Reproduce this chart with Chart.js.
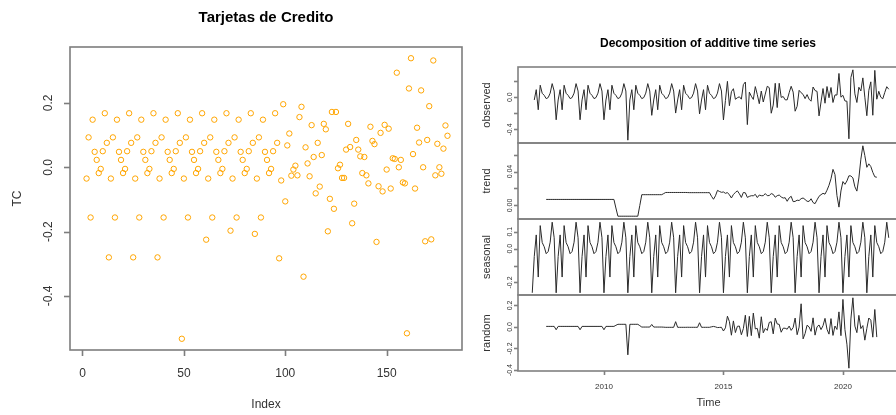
<!DOCTYPE html>
<html>
<head>
<meta charset="utf-8">
<script src="https://cdn.jsdelivr.net/npm/chart.js@4.4.1/dist/chart.umd.min.js"></script>
<style>
  html, body { margin: 0; padding: 0; background: #fff; width: 896px; height: 415px; overflow: hidden; }
  canvas { position: absolute; }
</style>
</head>
<body>
<canvas id="tc" width="480" height="415" style="left:0;top:0"></canvas>
<canvas id="pObs" width="440" height="415" style="left:480px;top:0"></canvas>
<canvas id="pTrend" width="440" height="415" style="left:480px;top:0"></canvas>
<canvas id="pSeas" width="440" height="415" style="left:480px;top:0"></canvas>
<canvas id="pRand" width="440" height="415" style="left:480px;top:0"></canvas>
<script>
// Monthly series, Jan 2007 .. Dec 2021 (January 2007 is missing)
const startYear = 2007;
const nMonths = 180;

// TC: one row per year, Jan..Dec
const tc = [
  null,   -0.035,  0.093, -0.156,  0.148,  0.048,  0.023, -0.018, -0.005,  0.050,  0.168,  0.076,
  -0.280, -0.035,  0.093, -0.156,  0.148,  0.048,  0.023, -0.018, -0.005,  0.050,  0.168,  0.076,
  -0.280, -0.035,  0.093, -0.156,  0.148,  0.048,  0.023, -0.018, -0.005,  0.050,  0.168,  0.076,
  -0.280, -0.035,  0.093, -0.156,  0.148,  0.048,  0.023, -0.018, -0.005,  0.050,  0.168,  0.076,
  -0.533, -0.035,  0.093, -0.156,  0.148,  0.048,  0.023, -0.018, -0.005,  0.050,  0.168,  0.076,
  -0.225, -0.035,  0.093, -0.156,  0.148,  0.048,  0.023, -0.018, -0.005,  0.050,  0.168,  0.076,
  -0.197, -0.035,  0.093, -0.156,  0.148,  0.048,  0.023, -0.018, -0.005,  0.050,  0.168,  0.076,
  -0.207, -0.035,  0.093, -0.156,  0.148,  0.048,  0.023, -0.018, -0.005,  0.050,  0.168,  0.076,
  -0.283, -0.041,  0.196, -0.106,  0.068,  0.105, -0.026, -0.007,  0.005, -0.025,  0.156,  0.188,
  -0.340,  0.062,  0.012, -0.028,  0.131,  0.032, -0.081,  0.076, -0.060,  0.038,  0.135,  0.118,
  -0.199, -0.098,  0.172, -0.129,  0.172, -0.003,  0.008, -0.033, -0.033,  0.055,  0.135,  0.063,
  -0.174, -0.113,  0.085,  0.055,  0.034, -0.018,  0.032, -0.025, -0.050,  0.126,  0.082,  0.072,
  -0.232, -0.059,  0.107, -0.075,  0.132, -0.007,  0.120, -0.066,  0.028,  0.026,  0.294,  0.000,
   0.023, -0.047, -0.050, -0.516,  0.245,  0.339,  0.041, -0.066,  0.123,  0.077,  0.239,  0.000,
  -0.230,  0.085,  0.190, -0.224,  0.332, -0.025,  0.073,  0.000, -0.020,  0.058,  0.130,  0.098
];

// Trend component (centred 12-month moving average)
const trend = [
  null, null, null, null, null, null, null, 0.0071, 0.0071, 0.0071, 0.0071, 0.0071,
  0.0071, 0.0071, 0.0071, 0.0071, 0.0071, 0.0071, 0.0071, 0.0071, 0.0071, 0.0071, 0.0071, 0.0071,
  0.0071, 0.0071, 0.0071, 0.0071, 0.0071, 0.0071, 0.0071, 0.0071, 0.0071, 0.0071, 0.0071, 0.0071,
  0.0071, 0.0071, 0.0071, 0.0071, 0.0071, 0.0071, -0.0030, -0.0127, -0.0127, -0.0127, -0.0127, -0.0127,
  -0.0127, -0.0127, -0.0127, -0.0127, -0.0127, -0.0127, 0.0000, 0.0127, 0.0127, 0.0127, 0.0127, 0.0127,
  0.0127, 0.0127, 0.0127, 0.0127, 0.0127, 0.0127, 0.0140, 0.0153, 0.0153, 0.0153, 0.0153, 0.0153,
  0.0153, 0.0153, 0.0153, 0.0153, 0.0153, 0.0153, 0.0152, 0.0151, 0.0151, 0.0151, 0.0151, 0.0151,
  0.0151, 0.0151, 0.0151, 0.0151, 0.0151, 0.0151, 0.0108, 0.0073, 0.0114, 0.0178, 0.0165, 0.0155,
  0.0159, 0.0143, 0.0152, 0.0125, 0.0088, 0.0130, 0.0153, 0.0172, 0.0138, 0.0094, 0.0153, 0.0149,
  0.0095, 0.0107, 0.0115, 0.0114, 0.0131, 0.0093, 0.0123, 0.0115, 0.0115, 0.0140, 0.0115, 0.0117,
  0.0140, 0.0131, 0.0097, 0.0115, 0.0123, 0.0100, 0.0087, 0.0091, 0.0049, 0.0089, 0.0108, 0.0045,
  0.0048, 0.0062, 0.0058, 0.0080, 0.0088, 0.0070, 0.0049, 0.0048, 0.0079, 0.0034, 0.0021, 0.0066,
  0.0108, 0.0127, 0.0143, 0.0133, 0.0180, 0.0238, 0.0315, 0.0426, 0.0365, 0.0116, -0.0020, 0.0171,
  0.0282, 0.0249, 0.0289, 0.0350, 0.0348, 0.0325, 0.0220, 0.0169, 0.0324, 0.0546, 0.0704, 0.0588,
  0.0450, 0.0491, 0.0459, 0.0391, 0.0338, 0.0333, null, null, null, null, null, null
];

// Seasonal component, Jan..Dec each year
const seasonal = [
  -0.261, -0.047, 0.081, -0.168, 0.136, 0.036, 0.011, -0.030, -0.017, 0.038, 0.156, 0.064,
  -0.261, -0.047, 0.081, -0.168, 0.136, 0.036, 0.011, -0.030, -0.017, 0.038, 0.156, 0.064,
  -0.261, -0.047, 0.081, -0.168, 0.136, 0.036, 0.011, -0.030, -0.017, 0.038, 0.156, 0.064,
  -0.261, -0.047, 0.081, -0.168, 0.136, 0.036, 0.011, -0.030, -0.017, 0.038, 0.156, 0.064,
  -0.261, -0.047, 0.081, -0.168, 0.136, 0.036, 0.011, -0.030, -0.017, 0.038, 0.156, 0.064,
  -0.261, -0.047, 0.081, -0.168, 0.136, 0.036, 0.011, -0.030, -0.017, 0.038, 0.156, 0.064,
  -0.261, -0.047, 0.081, -0.168, 0.136, 0.036, 0.011, -0.030, -0.017, 0.038, 0.156, 0.064,
  -0.261, -0.047, 0.081, -0.168, 0.136, 0.036, 0.011, -0.030, -0.017, 0.038, 0.156, 0.064,
  -0.261, -0.047, 0.081, -0.168, 0.136, 0.036, 0.011, -0.030, -0.017, 0.038, 0.156, 0.064,
  -0.261, -0.047, 0.081, -0.168, 0.136, 0.036, 0.011, -0.030, -0.017, 0.038, 0.156, 0.064,
  -0.261, -0.047, 0.081, -0.168, 0.136, 0.036, 0.011, -0.030, -0.017, 0.038, 0.156, 0.064,
  -0.261, -0.047, 0.081, -0.168, 0.136, 0.036, 0.011, -0.030, -0.017, 0.038, 0.156, 0.064,
  -0.261, -0.047, 0.081, -0.168, 0.136, 0.036, 0.011, -0.030, -0.017, 0.038, 0.156, 0.064,
  -0.261, -0.047, 0.081, -0.168, 0.136, 0.036, 0.011, -0.030, -0.017, 0.038, 0.156, 0.064,
  -0.261, -0.047, 0.081, -0.168, 0.136, 0.036, 0.011, -0.030, -0.017, 0.038, 0.156, 0.064
];

// Remainder component
const random = [
  null, null, null, null, null, null, null, 0.005, 0.005, 0.005, 0.005, 0.005,
  -0.026, 0.005, 0.005, 0.005, 0.005, 0.005, 0.005, 0.005, 0.005, 0.005, 0.005, 0.005,
  -0.026, 0.005, 0.005, 0.005, 0.005, 0.005, 0.005, 0.005, 0.005, 0.005, 0.005, 0.005,
  -0.026, 0.005, 0.005, 0.005, 0.005, 0.005, 0.015, 0.0245, 0.0245, 0.0245, 0.0245, 0.0245,
  -0.259, 0.0245, 0.0245, 0.0245, 0.0245, 0.0245, 0.012, -0.001, -0.001, -0.001, -0.001, -0.001,
  0.023, -0.001, -0.001, -0.001, -0.001, -0.001, -0.002, -0.0035, -0.0035, -0.0035, -0.0035, -0.0035,
  0.049, -0.0035, -0.0035, -0.0035, -0.0035, -0.0035, -0.003, -0.0033, -0.0033, -0.0033, -0.0033, -0.0033,
  0.039, -0.0033, -0.0033, -0.0033, -0.0033, -0.0033, 0.0012, 0.0047, 0.0006, -0.0058, -0.0045, -0.0035,
  -0.0379, -0.0083, 0.0998, 0.0495, -0.0768, 0.0560, -0.0523, 0.0058, 0.0082, -0.0724, -0.0153, 0.1091,
  -0.0885, 0.0983, -0.0805, 0.1286, -0.0181, -0.0133, -0.1043, 0.0945, -0.0545, -0.0140, -0.0325, 0.0423,
  0.0480, -0.0641, 0.0813, 0.0275, 0.0237, -0.0490, -0.0117, -0.0121, -0.0209, 0.0081, -0.0318, -0.0055,
  0.0822, -0.0722, -0.0018, 0.2150, -0.1108, -0.0610, 0.0161, 0.0002, -0.0409, 0.0846, -0.0761, 0.0014,
  0.0182, -0.0247, 0.0117, 0.0797, -0.0220, -0.0668, 0.0775, -0.0786, 0.0085, -0.0236, 0.1400, -0.0811,
  0.2558, -0.0249, -0.1599, -0.3830, 0.0742, 0.2705, 0.0080, -0.0529, 0.1076, -0.0156, 0.0126, -0.1228,
  -0.0140, 0.0829, 0.0631, -0.0951, 0.1622, -0.0943, null, null, null, null, null, null
];

// Axis ticks and their labels
const tcXTicks = [0, 50, 100, 150];
const tcYTicks = [0.2, 0.0, -0.2, -0.4];
const tcYLabels = ['0.2', '0.0', '-0.2', '-0.4'];
const timeTicks = [2010, 2015, 2020];
const obsTicks = [0.2, 0.0, -0.2, -0.4];
const obsLabels = { '0': '0.0', '-0.4': '-0.4' };
const trendTicks = [0.00, 0.02, 0.04, 0.06];
const trendLabels = { '0': '0.00', '0.04': '0.04' };
const seasTicks = [0.1, 0.0, -0.1, -0.2];
const seasLabels = { '0.1': '0.1', '0': '0.0', '-0.2': '-0.2' };
const randTicks = [0.2, 0.0, -0.2, -0.4];
const randLabels = { '0.2': '0.2', '0': '0.0', '-0.2': '-0.2', '-0.4': '-0.4' };

const index = Array.from({ length: nMonths }, (_, i) => i + 1);
const time = Array.from({ length: nMonths }, (_, i) => startYear + i / 12);

const FONT = "'Liberation Sans', Arial, Helvetica, sans-serif";
const INK = '#333';

// R-style frame, ticks and labels drawn from the chart's own scales
const rFrame = {
  id: 'rFrame',
  afterDraw(chart, _a, o) {
    const { ctx, chartArea: a } = chart;
    const xs = chart.scales.x, ys = chart.scales.y;
    ctx.save();
    ctx.strokeStyle = o.lineColor || '#777';
    ctx.lineWidth = o.lineWidth || 1.5;
    ctx.strokeRect(a.left, a.top, a.right - a.left, a.bottom - a.top);
    ctx.fillStyle = INK;
    ctx.textAlign = 'center';
    ctx.textBaseline = 'middle';
    if (o.y) {
      o.y.ticks.forEach(v => {
        const p = Math.round(ys.getPixelForValue(v)) + 0.5;
        ctx.beginPath(); ctx.moveTo(a.left, p); ctx.lineTo(a.left - o.y.tickLen, p); ctx.stroke();
        const lab = o.y.labels[String(v)];
        if (lab !== undefined) {
          ctx.save();
          ctx.font = o.y.font;
          ctx.translate(a.left - o.y.labelGap, ys.getPixelForValue(v));
          ctx.rotate(-Math.PI / 2);
          ctx.fillText(lab, 0, 0);
          ctx.restore();
        }
      });
      if (o.y.title) {
        ctx.save();
        ctx.font = o.y.titleFont;
        ctx.translate(a.left - o.y.titleGap, (a.top + a.bottom) / 2);
        ctx.rotate(-Math.PI / 2);
        ctx.fillText(o.y.title, 0, 0);
        ctx.restore();
      }
    }
    if (o.x) {
      o.x.ticks.forEach(v => {
        const p = Math.round(xs.getPixelForValue(v)) + 0.5;
        ctx.beginPath(); ctx.moveTo(p, a.bottom); ctx.lineTo(p, a.bottom + o.x.tickLen); ctx.stroke();
        ctx.font = o.x.font;
        ctx.fillText(String(v), xs.getPixelForValue(v), a.bottom + o.x.labelGap);
      });
      if (o.x.title) {
        ctx.font = o.x.titleFont;
        ctx.fillText(o.x.title, (a.left + a.right) / 2 + (o.x.titleShift || 0), a.bottom + o.x.titleGap);
      }
    }
    if (o.title) {
      ctx.fillStyle = '#000';
      ctx.font = o.title.font;
      ctx.fillText(o.title.text, o.title.x, o.title.y);
    }
    ctx.restore();
  }
};

const tcLabelMap = {};
tcYTicks.forEach((v, i) => { tcLabelMap[String(v)] = tcYLabels[i]; });

const base = {
  responsive: false,
  animation: false,
  devicePixelRatio: 1,
  events: [],
  plugins: { legend: { display: false }, tooltip: { enabled: false } }
};

// Left: scatter of TC against its index
new Chart(document.getElementById('tc'), {
  type: 'scatter',
  data: {
    datasets: [{
      data: index.map((i, k) => ({ x: i, y: tc[k] })),
      borderColor: '#FFA500',
      backgroundColor: 'rgba(0,0,0,0)',
      borderWidth: 1,
      pointRadius: 2.7,
      pointStyle: 'circle'
    }]
  },
  options: Object.assign({}, base, {
    layout: { padding: { left: 70, right: 18, top: 47, bottom: 65 } },
    scales: {
      x: { type: 'linear', display: false, min: -6.16, max: 187.16 },
      y: { type: 'linear', display: false, min: -0.5679, max: 0.3739 }
    },
    plugins: Object.assign({}, base.plugins, {
      rFrame: {
        lineColor: '#7d7d7d', lineWidth: 1.6,
        y: { ticks: tcYTicks, labels: tcLabelMap, tickLen: 6, labelGap: 21, font: '12px ' + FONT,
             title: 'TC', titleGap: 52, titleFont: '12px ' + FONT },
        x: { ticks: tcXTicks, tickLen: 6, labelGap: 24, font: '12px ' + FONT,
             title: 'Index', titleGap: 55, titleFont: '12px ' + FONT },
        title: { text: 'Tarjetas de Credito', x: 266, y: 18, font: 'bold 15px ' + FONT }
      }
    })
  }),
  plugins: [rFrame]
});

// Right: stacked panels of the additive decomposition
function panel(id, values, top, bottom, ymin, ymax, yTicks, yLabels, yTitle, extra) {
  const opts = Object.assign({}, base, {
    layout: { padding: { left: 38, right: 17, top: top, bottom: 415 - bottom } },
    scales: {
      x: { type: 'linear', display: false, min: 2006.4033, max: 2022.5133 },
      y: { type: 'linear', display: false, min: ymin, max: ymax }
    },
    plugins: Object.assign({}, base.plugins, {
      rFrame: Object.assign({
        lineColor: '#808080', lineWidth: 1.6,
        y: { ticks: yTicks, labels: yLabels, tickLen: 4, labelGap: 8, font: '7px ' + FONT,
             title: yTitle, titleGap: 31, titleFont: '11px ' + FONT }
      }, extra || {})
    })
  });
  new Chart(document.getElementById(id), {
    type: 'line',
    data: {
      datasets: [{
        data: time.map((t, k) => ({ x: t, y: values[k] })),
        borderColor: '#2a2a2a',
        borderWidth: 1,
        pointRadius: 0,
        tension: 0,
        spanGaps: false
      }]
    },
    options: opts,
    plugins: [rFrame]
  });
}

panel('pObs', tc, 67, 143, -0.5679, 0.3739, obsTicks, obsLabels, 'observed', {
  title: { text: 'Decomposition of additive time series', x: 228, y: 44, font: 'bold 12px ' + FONT }
});
panel('pTrend', trend, 143, 219, -0.0160, 0.0737, trendTicks, trendLabels, 'trend');
panel('pSeas', seasonal, 219, 295, -0.274, 0.175, seasTicks, seasLabels, 'seasonal');
panel('pRand', random, 295, 371, -0.4091, 0.2966, randTicks, randLabels, 'random', {
  x: { ticks: timeTicks, tickLen: 4, labelGap: 16, font: '8px ' + FONT,
       title: 'Time', titleGap: 32, titleFont: '11px ' + FONT, titleShift: -2 }
});
</script>
</body>
</html>
